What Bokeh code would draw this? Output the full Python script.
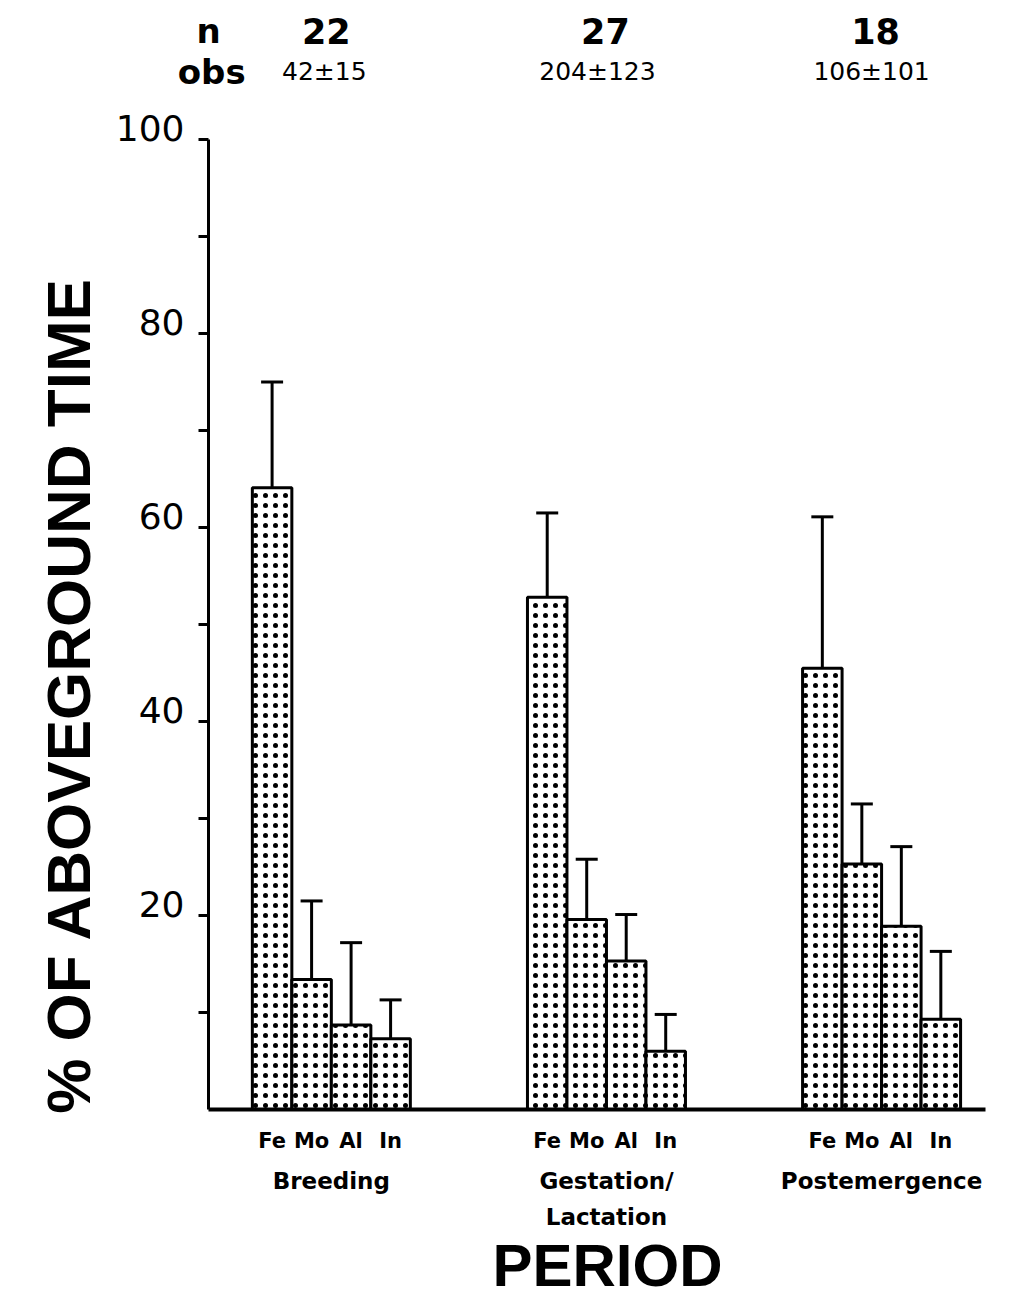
from math import pi
from bokeh.plotting import figure
from bokeh.models import (ColumnDataSource, Range1d, FixedTicker, LinearAxis,
                          Whisker, TeeHead, Label)
from bokeh.embed import file_html
from bokeh.resources import INLINE

# ---------------- data ----------------
periods = ["Breeding", "Gestation/\nLactation", "Postemergence"]
classes = ["Fe", "Mo", "Al", "In"]
fe_mean = [64.1, 52.8, 45.5]
mo_mean = [13.4, 19.6, 25.3]
al_mean = [8.7, 15.3, 18.9]
in_mean = [7.3, 6.0, 9.3]
fe_upper = [75.0, 61.5, 61.1]
mo_upper = [21.5, 25.8, 31.5]
al_upper = [17.2, 20.1, 27.1]
in_upper = [11.3, 9.8, 16.3]
n_values = ["22", "27", "18"]
obs_values = ["42\u00b115", "204\u00b1123", "106\u00b1101"]
y_major_ticks = [20, 40, 60, 80, 100]
y_tick_labels = ["20", "40", "60", "80", "100"]
y_minor_ticks = [10, 30, 50, 70, 90]
y_label = "% OF ABOVEGROUND TIME"
x_label = "PERIOD"

# ---------------- layout ----------------
W, H = 1002, 1303
PX_X = 39.5          # pixels per bar width
PX_Y = 9.7           # pixels per percent
X0_PX, Y0_PX = 208, 1109
BAR_W = 1.0
FIRST = 3.11
GAP = 6.965
X_END = 19.67

means = [fe_mean, mo_mean, al_mean, in_mean]
uppers = [fe_upper, mo_upper, al_upper, in_upper]
group_x = [FIRST + g * GAP for g in range(len(periods))]

xs, tops, ups, labs = [], [], [], []
for g in range(len(periods)):
    for c in range(len(classes)):
        xs.append(round(group_x[g] + (c - 1.5) * BAR_W, 4))
        tops.append(means[c][g])
        ups.append(uppers[c][g])
        labs.append(classes[c])
src = ColumnDataSource(dict(x=xs, top=tops, upper=ups, cls=labs))

x_range = Range1d(-X0_PX / PX_X, (W - X0_PX) / PX_X)
y_range = Range1d(-(H - Y0_PX) / PX_Y, Y0_PX / PX_Y)

p = figure(width=W, height=H, x_range=x_range, y_range=y_range,
           min_border=0, output_backend="svg", toolbar_location=None,
           x_axis_type=None, y_axis_type=None)
p.outline_line_color = None
p.background_fill_color = "white"
p.border_fill_color = "white"

# y axis
yax = LinearAxis(ticker=FixedTicker(ticks=y_major_ticks, minor_ticks=y_minor_ticks),
                 fixed_location=0, bounds=(0, 100))
yax.axis_line_width = 3
yax.axis_line_color = "black"
yax.major_tick_line_width = 3
yax.minor_tick_line_width = 3
yax.major_tick_out = 10
yax.major_tick_in = 0
yax.minor_tick_out = 10
yax.minor_tick_in = 0
yax.major_label_text_font_size = "0px"
yax.major_label_text_color = None
p.add_layout(yax, "left")

# tick labels, sitting just above their ticks
ysrc = ColumnDataSource(dict(y=y_major_ticks, t=y_tick_labels, x=[0] * len(y_major_ticks)))
p.text(x="x", y="y", text="t", source=ysrc, x_offset=-24, y_offset=-12,
       text_align="right", text_baseline="middle",
       text_font={"value": "DejaVu Sans"}, text_font_size="36px",
       text_color="black")

# x axis (class labels under each bar)
xax = LinearAxis(ticker=FixedTicker(ticks=xs, minor_ticks=[]),
                 major_label_overrides={x: l for x, l in zip(xs, labs)},
                 fixed_location=0, bounds=(0, X_END))
xax.axis_line_width = 4
xax.axis_line_color = "black"
xax.major_tick_line_color = None
xax.minor_tick_line_color = None
xax.major_label_standoff = 13
xax.major_label_text_font = "DejaVu Sans"
xax.major_label_text_font_style = "bold"
xax.major_label_text_font_size = "21px"
xax.major_label_text_color = "black"
p.add_layout(xax, "below")

# period axis
pax = LinearAxis(ticker=FixedTicker(ticks=group_x, minor_ticks=[]),
                 major_label_overrides={x: l for x, l in zip(group_x, periods)},
                 fixed_location=0)
pax.axis_line_color = None
pax.major_tick_line_color = None
pax.minor_tick_line_color = None
pax.major_label_standoff = 52
pax.major_label_text_font = "DejaVu Sans"
pax.major_label_text_font_style = "bold"
pax.major_label_text_font_size = "23px"
pax.major_label_text_line_height = 1.4
pax.major_label_text_color = "black"
p.add_layout(pax, "below")

# bars
p.vbar(x="x", top="top", bottom=0, width=BAR_W, source=src,
       fill_color="white", line_color="black", line_width=3,
       hatch_pattern="dot", hatch_color="black", hatch_scale=10, hatch_weight=3)

# error bars
wh = Whisker(source=src, base="x", lower="top", upper="upper", dimension="height",
             line_color="black", line_width=3,
             upper_head=TeeHead(size=22, line_width=3, line_color="black"),
             lower_head=None)
p.add_layout(wh)

# header labels
def lab(x, y, text, size, bold=True, xo=0, font="DejaVu Sans", angle=0):
    return Label(x=x, y=y, x_offset=xo, text=text, angle=angle,
                 text_font=font, text_font_style="bold" if bold else "normal",
                 text_font_size=size, text_color="black",
                 text_align="center", text_baseline="middle")

ROW_N, ROW_OBS = 111.2, 107.0
p.add_layout(lab(0.0, ROW_N, "n", "34px"))
p.add_layout(lab(0.08, ROW_OBS, "obs", "34px"))
n_off = [-5, -1, -6]
o_off = [-7, -9, -10]
for g in range(len(periods)):
    p.add_layout(lab(group_x[g], ROW_N, n_values[g], "35px", xo=n_off[g]))
    p.add_layout(lab(group_x[g], ROW_OBS, obs_values[g], "25px", bold=False, xo=o_off[g]))

# axis titles
p.add_layout(lab(-3.54, 42.7, y_label, "62px", font="Liberation Sans", angle=pi / 2))
p.add_layout(lab(10.1, -16.1, x_label, "60px", font="Liberation Sans"))

open("out.html", "w").write(file_html(p, INLINE))
